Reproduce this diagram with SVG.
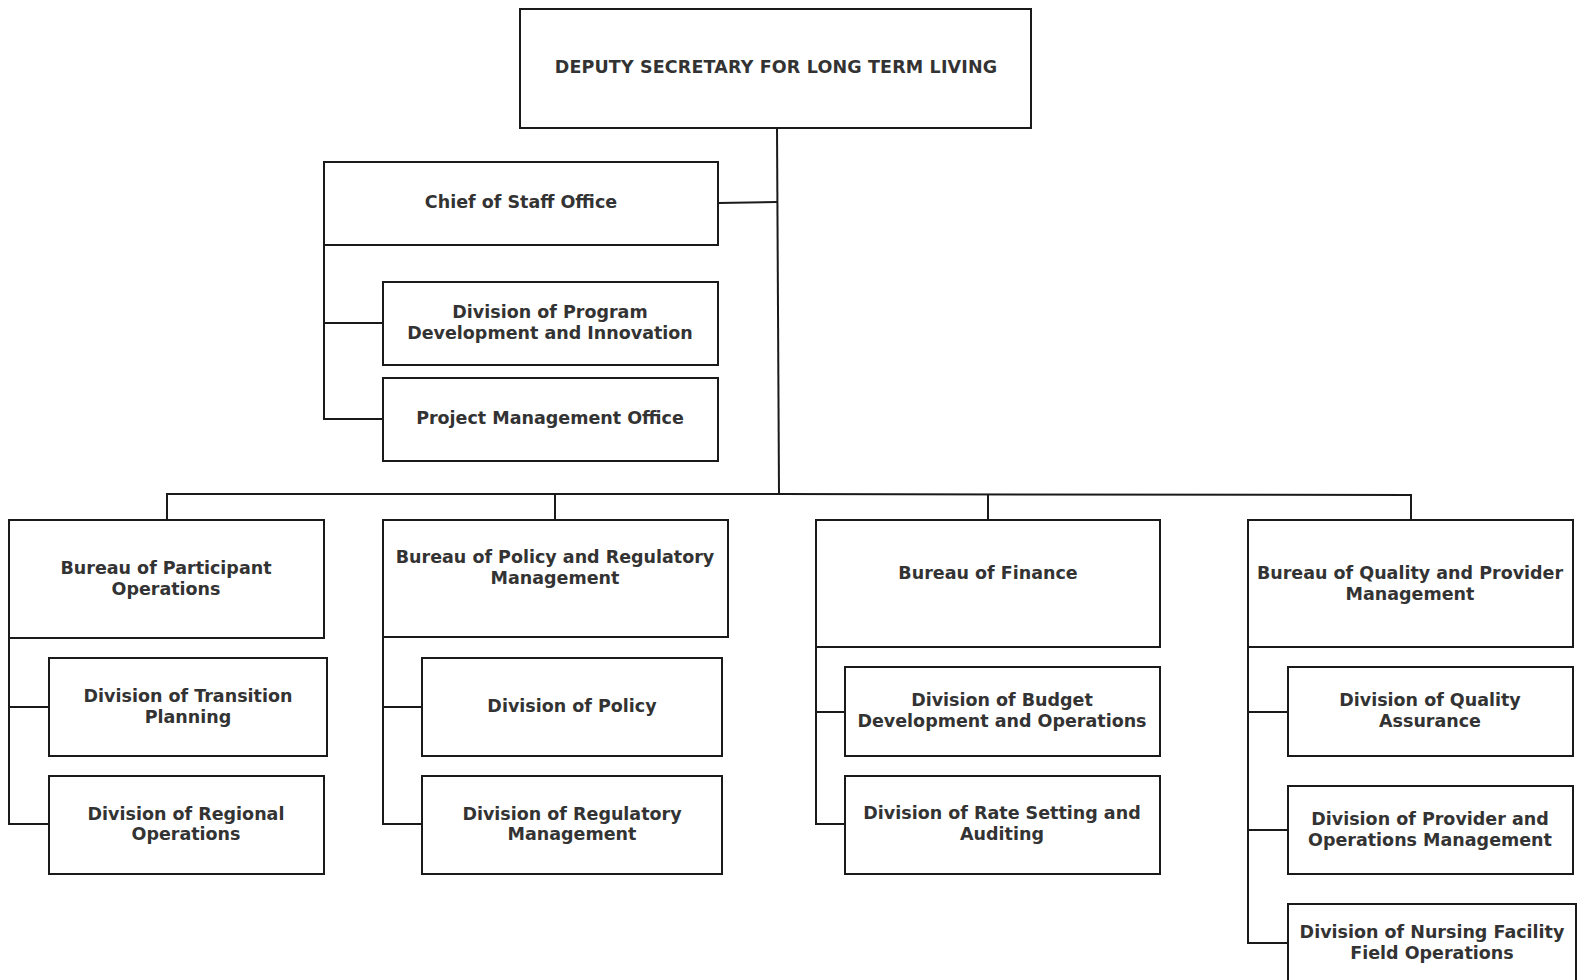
<svg xmlns="http://www.w3.org/2000/svg" width="1577" height="980" viewBox="0 0 1577 980">
<style>
rect.box{fill:#fff;stroke:#1a1a1a;stroke-width:2}
.conn path{fill:none;stroke:#1a1a1a;stroke-width:2}
text{font-family:"DejaVu Sans","Verdana",sans-serif;font-weight:bold;font-size:17.5px;fill:#333;text-anchor:middle}
text.top{letter-spacing:0.15px}
</style>
<rect width="1577" height="980" fill="#fff"/>
<g class="conn" id="connectors">
<path d="M777 128 L779 494"/>
<path d="M718 203 L777 202"/>
<path d="M167 519 L167 494 L779 494 L1411 495 L1411 519"/>
<path d="M555 494 L555 519"/>
<path d="M988 495 L988 519"/>
<path d="M324 245 L324 419 L383 419"/>
<path d="M324 323 L383 323"/>
<path d="M9 638 L9 824 L49 824"/>
<path d="M9 707 L49 707"/>
<path d="M383 637 L383 824 L422 824"/>
<path d="M383 707 L422 707"/>
<path d="M816 647 L816 824 L845 824"/>
<path d="M816 712 L845 712"/>
<path d="M1248 647 L1248 943 L1288 943"/>
<path d="M1248 712 L1288 712"/>
<path d="M1248 830 L1288 830"/>
</g>
<g id="deputy"><rect class="box" x="520" y="9" width="511" height="119"/><text class="top" x="776" y="73">DEPUTY SECRETARY FOR LONG TERM LIVING</text></g>
<g id="chief"><rect class="box" x="324" y="162" width="394" height="83"/><text x="521" y="208">Chief of Staff Office</text></g>
<g id="program"><rect class="box" x="383" y="282" width="335" height="83"/><text x="550" y="318">Division of Program</text><text x="550" y="339">Development and Innovation</text></g>
<g id="pmo"><rect class="box" x="383" y="378" width="335" height="83"/><text x="550" y="424">Project Management Office</text></g>
<g id="participant"><rect class="box" x="9" y="520" width="315" height="118"/><text x="166" y="574">Bureau of Participant</text><text x="166" y="595">Operations</text></g>
<g id="transition"><rect class="box" x="49" y="658" width="278" height="98"/><text x="188" y="702">Division of Transition</text><text x="188" y="723">Planning</text></g>
<g id="regional"><rect class="box" x="49" y="776" width="275" height="98"/><text x="186" y="820">Division of Regional</text><text x="186" y="840">Operations</text></g>
<g id="policybureau"><rect class="box" x="383" y="520" width="345" height="117"/><text x="555" y="563">Bureau of Policy and Regulatory</text><text x="555" y="584">Management</text></g>
<g id="policy"><rect class="box" x="422" y="658" width="300" height="98"/><text x="572" y="712">Division of Policy</text></g>
<g id="regulatory"><rect class="box" x="422" y="776" width="300" height="98"/><text x="572" y="820">Division of Regulatory</text><text x="572" y="840">Management</text></g>
<g id="finance"><rect class="box" x="816" y="520" width="344" height="127"/><text x="988" y="579">Bureau of Finance</text></g>
<g id="budget"><rect class="box" x="845" y="667" width="315" height="89"/><text x="1002" y="706">Division of Budget</text><text x="1002" y="727">Development and Operations</text></g>
<g id="rate"><rect class="box" x="845" y="776" width="315" height="98"/><text x="1002" y="819">Division of Rate Setting and</text><text x="1002" y="840">Auditing</text></g>
<g id="qualitybureau"><rect class="box" x="1248" y="520" width="325" height="127"/><text x="1410" y="579">Bureau of Quality and Provider</text><text x="1410" y="600">Management</text></g>
<g id="qa"><rect class="box" x="1288" y="667" width="285" height="89"/><text x="1430" y="706">Division of Quality</text><text x="1430" y="727">Assurance</text></g>
<g id="provider"><rect class="box" x="1288" y="786" width="285" height="88"/><text x="1430" y="825">Division of Provider and</text><text x="1430" y="846">Operations Management</text></g>
<g id="nursing"><rect class="box" x="1288" y="904" width="288" height="90"/><text x="1432" y="938">Division of Nursing Facility</text><text x="1432" y="959">Field Operations</text></g>
</svg>
